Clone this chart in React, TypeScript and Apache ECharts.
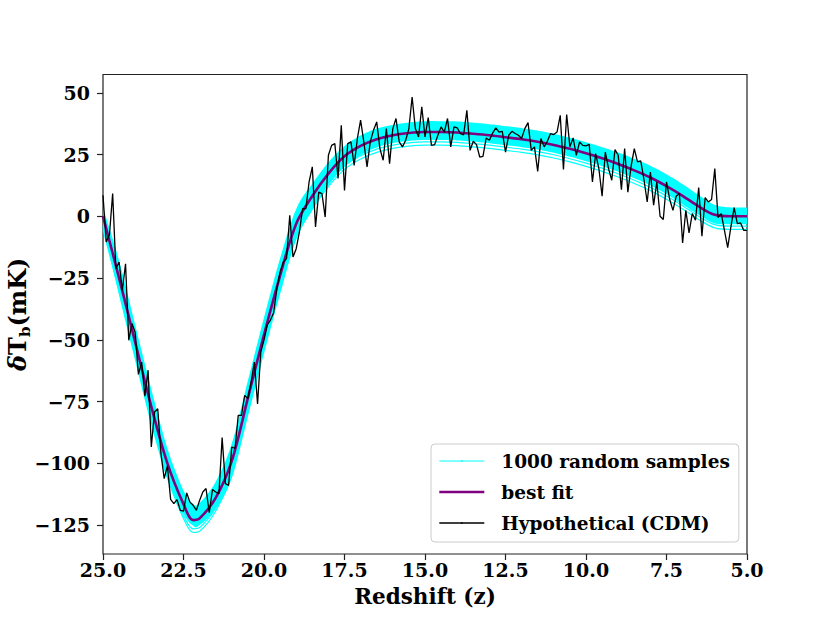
import React, { useEffect, useRef } from 'react';
import * as echarts from 'echarts';

const FONT = "'DejaVu Serif', serif";

const X_TICKS = [25, 22.5, 20, 17.5, 15, 12.5, 10, 7.5, 5];
const Y_TICKS = [50, 25, 0, -25, -50, -75, -100, -125];

// Hypothetical (CDM) mock observation
const CDM_Z = [
  25, 24.9, 24.8, 24.7, 24.6, 24.5, 24.4, 24.3, 24.2, 24.1,
  24, 23.9, 23.8, 23.7, 23.6, 23.5, 23.4, 23.3, 23.2, 23.1,
  23, 22.9, 22.8, 22.7, 22.6, 22.5, 22.4, 22.3, 22.2, 22.1,
  22, 21.9, 21.8, 21.7, 21.6, 21.5, 21.4, 21.3, 21.2, 21.1,
  21, 20.9, 20.8, 20.7, 20.6, 20.5, 20.4, 20.3, 20.2, 20.1,
  20, 19.9, 19.8, 19.7, 19.6, 19.5, 19.4, 19.3, 19.2, 19.1,
  19, 18.9, 18.8, 18.7, 18.6, 18.5, 18.4, 18.3, 18.2, 18.1,
  18, 17.9, 17.8, 17.7, 17.6, 17.5, 17.4, 17.3, 17.2, 17.1,
  17, 16.9, 16.8, 16.7, 16.6, 16.5, 16.4, 16.3, 16.2, 16.1,
  16, 15.9, 15.8, 15.7, 15.6, 15.5, 15.4, 15.3, 15.2, 15.1,
  15, 14.9, 14.8, 14.7, 14.6, 14.5, 14.4, 14.3, 14.2, 14.1,
  14, 13.9, 13.8, 13.7, 13.6, 13.5, 13.4, 13.3, 13.2, 13.1,
  13, 12.9, 12.8, 12.7, 12.6, 12.5, 12.4, 12.3, 12.2, 12.1,
  12, 11.9, 11.8, 11.7, 11.6, 11.5, 11.4, 11.3, 11.2, 11.1,
  11, 10.9, 10.8, 10.7, 10.6, 10.5, 10.4, 10.3, 10.2, 10.1,
  10, 9.9, 9.8, 9.7, 9.6, 9.5, 9.4, 9.3, 9.2, 9.1,
  9, 8.9, 8.8, 8.7, 8.6, 8.5, 8.4, 8.3, 8.2, 8.1,
  8, 7.9, 7.8, 7.7, 7.6, 7.5, 7.4, 7.3, 7.2, 7.1,
  7, 6.9, 6.8, 6.7, 6.6, 6.5, 6.4, 6.3, 6.2, 6.1,
  6, 5.9, 5.8, 5.7, 5.6, 5.5, 5.4, 5.3, 5.2, 5.1,
  5,
];
const CDM_T = [
  8.5, -10.4, -7.5, 9.2, -21.2, -18.5, -30, -19.2, -50.2, -43.4,
  -47, -64, -59, -72.8, -62.3, -93.4, -79.2, -77.9, -96, -106.2,
  -101, -114.6, -116.3, -114.7, -119, -119.3, -112, -115.7, -117, -119,
  -115, -111.6, -110.2, -120, -110.6, -111.6, -112.3, -89.6, -108.2, -108.9,
  -93.4, -94, -80.6, -80.6, -72.5, -73.8, -67, -59, -76, -55,
  -50, -44, -42, -39, -29.3, -22.5, -18.5, -17.1, 0.4, -16.5,
  -13.1, -6.3, 3.1, 3.1, 13.9, 20, -4.3, 9.8, 9.2, -0.3,
  24.7, 28.7, 29.4, 15.3, 36.8, 10.5, 29.4, 30.1, 20.6, 31.5,
  38.9, 30.1, 20, 30.1, 34.8, 38.2, 27.4, 22.7, 35.5, 21.3,
  35.5, 39.6, 30.1, 28.1, 30.8, 35.5, 48.3, 35.5, 32.1, 44.3,
  32.1, 40, 28.7, 29, 32.8, 36.2, 34.1, 39.6, 28.1, 36.2,
  35.8, 33.5, 33, 42.9, 26.7, 30.4, 29, 24, 24.3, 31.7,
  30.8, 33.7, 35.8, 34.1, 34.4, 26, 32.8, 34.4, 33.5, 32.8,
  31.5, 35.5, 37.9, 26.7, 28.1, 18.2, 31.5, 28.1, 30.4, 33.5,
  33.1, 34.1, 40.9, 19, 41.2, 28.1, 31.7, 24.7, 30.1, 28.7,
  28.5, 29.1, 13.9, 25.4, 19.3, 8.1, 26, 19.3, 14.6, 27,
  24.7, 10.8, 27.4, 9.8, 20.2, 27.4, 22, 22.4, 14.9, 5.8,
  17.9, 4.5, 13.9, 0, -1.3, 13.9, 6.8, 2.4, 8.1, 9.2,
  -10.8, 2.4, -6.7, 1.1, -1.6, 11.6, -8.1, 7.6, 5.8, 6.8,
  19.3, -0.5, 1.1, -5.7, -12.7, -4.3, 3.5, -3, -2.7, -5.7,
  -5.7,
];

// best fit and the envelope of the 1000 random samples
const FIT_Z = [
  25, 24.5, 24, 23.5, 23, 22.5, 22.2, 22, 21.5, 21, 20.5, 20, 19.5, 19,
  18.5, 18, 17.5, 17, 16.5, 16, 15.5, 15, 14.5, 14, 13.5, 13, 12.5, 12,
  11.5, 11, 10.5, 10, 9.5, 9, 8.5, 8, 7.5, 7, 6.5, 6, 5.5, 5,
];
const FIT_T = [
  0, -25, -51, -77, -100, -116.5, -123, -122.3, -114, -99, -73.5, -48, -24, -3,
  8.2, 17.3, 24.3, 28.5, 31.2, 32.8, 33.7, 34.1, 34.1, 33.9, 33.4, 32.8, 32, 31.2,
  30.2, 28.9, 27.3, 25.5, 23.5, 21.2, 18.6, 15.7, 12.2, 8.3, 4, 0.6, 0, 0,
];
const BAND_UPPER = [
  3.5, -18, -44, -70, -94, -111, -116.5, -116, -107.5, -92, -66.5, -41, -17, 3,
  13.2, 21.8, 28.5, 32.7, 35.5, 37, 38, 38.5, 38.5, 38.4, 37.9, 37.3, 36.5, 35.7,
  34.7, 33.4, 31.8, 30, 28, 25.8, 23.3, 20.5, 17, 13, 8.6, 4.6, 3.6, 3.6,
];
const BAND_LOWER = [
  -4.5, -32, -58.5, -84.5, -106.5, -120.5, -125.3, -125, -118.5, -106, -81, -55.5, -31.5, -9.5,
  2.5, 12.5, 20, 24.8, 27.9, 29.6, 30.5, 30.9, 30.9, 30.7, 30.2, 29.6, 28.8, 28,
  27, 25.7, 24.1, 22.3, 20.3, 18, 15.4, 12.5, 9, 4.8, 0.6, -2.9, -3.2, -3.2,
];
const SAMPLE_LOW_A = [
  -4, -29, -55, -81, -104.5, -121, -126.5, -126, -118, -103, -77.5, -52, -28, -7,
  4.2, 13.3, 20.3, 24.5, 27.2, 28.8, 29.7, 30.1, 30.1, 29.9, 29.4, 28.8, 28, 27.2,
  26.2, 24.9, 23.3, 21.5, 19.5, 17.2, 14.6, 11.7, 8.2, 4.3, 0, -3.4, -4, -4,
];
const SAMPLE_LOW_B = [
  -5.3, -30.3, -56.3, -82.3, -105.8, -122.3, -128, -127.5, -119.3, -104.3, -78.8, -53.3, -29.3, -8.3,
  2.9, 12, 19, 23.2, 25.9, 27.5, 28.4, 28.8, 28.8, 28.6, 28.1, 27.5, 26.7, 25.9,
  24.9, 23.6, 22, 20.2, 18.2, 15.9, 13.3, 10.4, 6.9, 3, -1.3, -4.7, -5.3, -5.3,
];

const pairs = (xs: number[], ys: number[]) => xs.map((x, i) => [x, ys[i]]);

function catmull(pts: number[][]): number[][] {
  const out: number[][] = [];
  const n = pts.length;
  const steps = 8;
  for (let i = 0; i < n - 1; i++) {
    const p0 = pts[Math.max(i - 1, 0)];
    const p1 = pts[i];
    const p2 = pts[i + 1];
    const p3 = pts[Math.min(i + 2, n - 1)];
    for (let s = 0; s < steps; s++) {
      const t = s / steps;
      const t2 = t * t;
      const t3 = t2 * t;
      const f = (k: number) =>
        0.5 *
        (2 * p1[k] +
          (-p0[k] + p2[k]) * t +
          (2 * p0[k] - 5 * p1[k] + 4 * p2[k] - p3[k]) * t2 +
          (-p0[k] + 3 * p1[k] - 3 * p2[k] + p3[k]) * t3);
      out.push([f(0), f(1)]);
    }
  }
  out.push(pts[n - 1]);
  return out;
}

export default function App() {
  const ref = useRef<HTMLDivElement>(null);

  useEffect(() => {
    if (!ref.current) return;
    const chart = echarts.init(ref.current, undefined, { renderer: 'svg' });
    const txt = { fontFamily: FONT, fontWeight: 'bold' as const, fontSize: 19, color: '#000' };

    const option: any = {
      animation: false,
      backgroundColor: '#fff',
      grid: {
        left: 103,
        right: 83,
        top: 74.5,
        bottom: 69,
        show: true,
        borderColor: '#222',
        borderWidth: 1.2,
        backgroundColor: 'transparent',
        outerBoundsMode: 'none',
      },
      xAxis: {
        type: 'value',
        min: 5,
        max: 25,
        inverse: true,
        axisLine: { show: false, onZero: false },
        splitLine: { show: false },
        axisTick: { show: true, length: 6, customValues: X_TICKS, lineStyle: { color: '#222', width: 1.2 } },
        axisLabel: {
          ...txt,
          margin: 6,
          customValues: X_TICKS,
          formatter: (v: number) => v.toFixed(1),
        },
        name: 'Redshift (z)',
        nameLocation: 'middle',
        nameGap: 31,
        nameMoveOverlap: false,
        nameTextStyle: { ...txt, fontSize: 21.5 },
      },
      yAxis: {
        type: 'value',
        min: -136.7,
        max: 57.4,
        axisLine: { show: false, onZero: false },
        splitLine: { show: false },
        axisTick: { show: true, length: 6, customValues: Y_TICKS, lineStyle: { color: '#222', width: 1.2 } },
        axisLabel: {
          ...txt,
          margin: 13,
          customValues: Y_TICKS,
          formatter: (v: number) => String(v).replace('-', '\u2212'),
        },
        name: '{d|\u03b4}{t|T}{s|b}{t|(mK)}',
        nameLocation: 'middle',
        nameGap: 71,
        nameRotate: 90,
        nameMoveOverlap: false,
        nameTextStyle: {
          ...txt,
          rich: {
            d: { fontFamily: FONT, fontWeight: 'bold', fontStyle: 'italic', fontSize: 24, color: '#000', lineHeight: 30 },
            t: { fontFamily: FONT, fontWeight: 'bold', fontSize: 24, color: '#000', lineHeight: 30 },
            s: { fontFamily: FONT, fontWeight: 'bold', fontSize: 15, color: '#000', lineHeight: 15, verticalAlign: 'bottom' },
          },
        },
      },
      legend: {
        orient: 'vertical',
        left: 431,
        top: 444,
        itemWidth: 45,
        itemHeight: 2,
        itemGap: 11,
        padding: [7, 9, 9, 7],
        backgroundColor: 'rgba(255,255,255,0.8)',
        borderColor: '#cccccc',
        borderWidth: 1,
        borderRadius: 4,
        selectedMode: false,
        lineStyle: { width: 'inherit' },
        textStyle: { ...txt, fontSize: 18.5, lineHeight: 20, padding: [0, 0, 0, 12] },
        data: ['1000 random samples', 'best fit', 'Hypothetical (CDM)'],
      },
      series: [
        {
          name: '1000 random samples',
          type: 'line',
          data: pairs(FIT_Z, SAMPLE_LOW_A),
          smooth: 0.33,
          symbol: 'none',
          z: 3,
          lineStyle: { color: '#00ffff', width: 1.2 },
          itemStyle: { color: '#00ffff' },
        },
        {
          name: '1000 random samples',
          type: 'line',
          data: pairs(FIT_Z, SAMPLE_LOW_B),
          smooth: 0.33,
          symbol: 'none',
          z: 3,
          lineStyle: { color: '#00ffff', width: 1.2 },
          itemStyle: { color: '#00ffff' },
        },
        {
          name: '1000 random samples',
          type: 'custom',
          z: 2,
          data: [[15, 0]],
          itemStyle: { color: '#00ffff' },
          renderItem: (_params: any, api: any) => {
            const up = FIT_Z.map((z, i) => api.coord([z, BAND_UPPER[i]]));
            const lo = FIT_Z.map((z, i) => api.coord([z, BAND_LOWER[i]]));
            const pts = catmull(up).concat(catmull(lo).reverse());
            return {
              type: 'polygon',
              shape: { points: pts },
              style: { fill: '#00ffff', stroke: null },
            };
          },
        },
        {
          name: 'best fit',
          type: 'line',
          data: pairs(FIT_Z, FIT_T),
          smooth: 0.33,
          symbol: 'none',
          z: 4,
          lineStyle: { color: '#800080', width: 2.6 },
          itemStyle: { color: '#800080' },
        },
        {
          name: 'Hypothetical (CDM)',
          type: 'line',
          data: pairs(CDM_Z, CDM_T),
          symbol: 'none',
          z: 5,
          lineStyle: { color: '#000000', width: 1.3 },
          itemStyle: { color: '#000000' },
        },
      ],
    };

    chart.setOption(option);
    return () => chart.dispose();
  }, []);

  return (
    <div
      ref={ref}
      style={{ position: 'fixed', left: 0, top: 0, width: '830px', height: '623px', background: '#fff' }}
    />
  );
}
